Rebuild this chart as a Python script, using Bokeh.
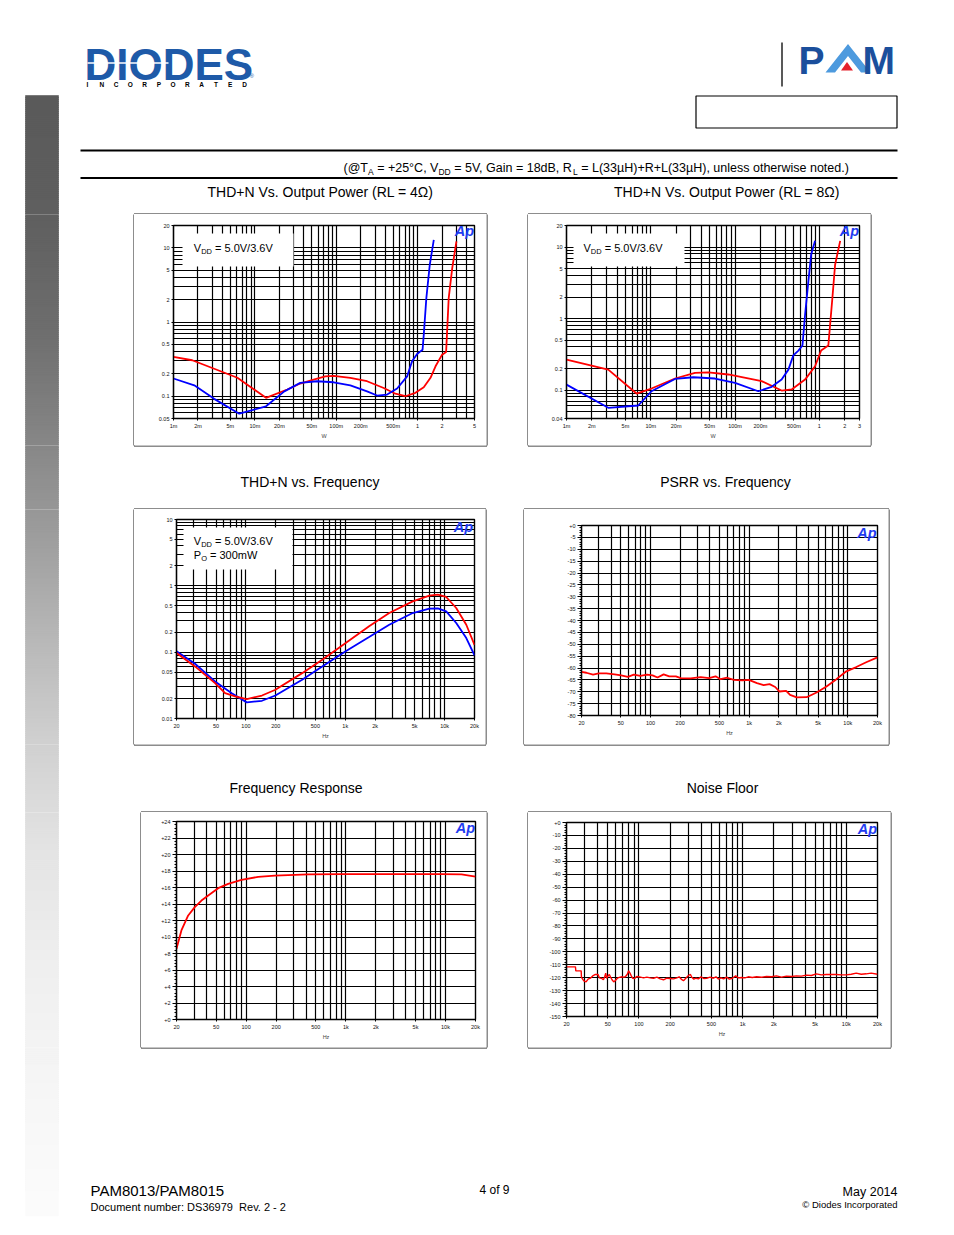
import numpy as np
from bokeh.plotting import figure
from bokeh.models import FixedTicker, Label, BoxAnnotation, Range1d
from bokeh.layouts import row, column
from bokeh.embed import file_html
from bokeh.resources import INLINE
from bokeh.core.properties import value

FONT = "Liberation Sans"
RED = "#ff0000"
BLUE = "#0000ff"
AP_BLUE = "#1f3cf0"

# ---------------- data ----------------
# THD+N vs output power, RL = 4 ohm (red: VDD 5.0 V, blue: VDD 3.6 V)
p4_red_w = [0.001, 0.0017, 0.0061, 0.0137, 0.025, 0.0361, 0.0527, 0.0734, 0.0929, 0.149, 0.239, 0.383,
            0.533, 0.708, 0.94, 1.19, 1.44, 1.66, 2.0, 2.24, 2.41, 2.66, 3.0]
p4_red_pct = [0.338, 0.305, 0.177, 0.095, 0.123, 0.148, 0.167, 0.185, 0.188, 0.177, 0.159, 0.129,
              0.108, 0.0998, 0.111, 0.132, 0.177, 0.253, 0.363, 0.395, 2.1, 5.3, 12.2]
p4_blue_w = [0.001, 0.0018, 0.00316, 0.00643, 0.0137, 0.023, 0.0361, 0.058, 0.0929, 0.149, 0.239, 0.318,
             0.422, 0.56, 0.743, 0.855, 0.986, 1.11, 1.15, 1.19, 1.28, 1.41, 1.58]
p4_blue_pct = [0.173, 0.140, 0.092, 0.058, 0.073, 0.116, 0.151, 0.159, 0.154, 0.140, 0.116, 0.102,
               0.105, 0.127, 0.185, 0.295, 0.371, 0.411, 0.42, 0.676, 2.1, 5.9, 12.8]

# THD+N vs output power, RL = 8 ohm
p8_red_w = [0.001, 0.00313, 0.00678, 0.0102, 0.0194, 0.0335, 0.0482, 0.0832, 0.207, 0.357, 0.47, 0.678,
            0.891, 1.05, 1.28, 1.43, 1.54, 1.77]
p8_red_pct = [0.267, 0.193, 0.0894, 0.105, 0.145, 0.174, 0.177, 0.165, 0.133, 0.0984, 0.102, 0.140,
              0.215, 0.356, 0.419, 1.94, 5.66, 12.2]
p8_blue_w = [0.001, 0.00313, 0.0071, 0.0102, 0.0194, 0.032, 0.0578, 0.1, 0.189, 0.272, 0.357, 0.43,
             0.492, 0.565, 0.631, 0.678, 0.742, 0.8, 0.891]
p8_blue_pct = [0.119, 0.0564, 0.0608, 0.0962, 0.143, 0.151, 0.145, 0.126, 0.0962, 0.111, 0.140, 0.193,
               0.306, 0.356, 0.419, 1.13, 3.31, 7.8, 12.2]

# THD+N vs frequency (PO = 300 mW)
thdf_red_hz = [20, 30.7, 48.9, 61.7, 77.8, 102, 145, 198, 368, 586, 1010, 1738, 2772, 4775, 7031,
               8549, 10380, 13090, 16530, 20000]
thdf_red_pct = [0.0968, 0.061, 0.0341, 0.0241, 0.0215, 0.0196, 0.0222, 0.0271, 0.0483, 0.0769, 0.137,
                0.245, 0.389, 0.583, 0.711, 0.736, 0.679, 0.463, 0.259, 0.129]
thdf_blue_hz = [20, 30.7, 48.9, 72, 102, 145, 198, 368, 586, 1010, 1738, 2772, 4775, 7031, 8549,
                10380, 13090, 16530, 20000]
thdf_blue_pct = [0.103, 0.0668, 0.0362, 0.0241, 0.0175, 0.0185, 0.0222, 0.0384, 0.061, 0.103, 0.169,
                 0.259, 0.389, 0.453, 0.458, 0.413, 0.275, 0.163, 0.0894]

# PSRR vs frequency
psrr_hz = [20, 22.4, 26.2, 29.9, 35.7, 43.3, 50.5, 59.0, 67.8, 79.1,
           92.3, 105, 118, 136, 155, 181, 203, 256, 323, 392,
           457, 513, 599, 700, 849, 991, 1202, 1403, 1612, 1838,
           2033, 2372, 2601, 3036, 3826, 4826, 6083, 7670, 9670, 12190,
           15370, 20000]
psrr_db = [-61.6, -62.0, -62.8, -62.3, -62.3, -62.7, -63.1, -63.7, -62.8, -63.3,
           -62.8, -63.1, -64.0, -62.7, -63.5, -63.5, -64.3, -64.4, -63.8, -64.3,
           -63.5, -64.7, -64.1, -65.0, -65.2, -65.0, -66.4, -67.2, -66.8, -68.0,
           -69.9, -69.6, -71.3, -72.4, -72.3, -70.3, -67.8, -64.7, -61.4, -59.6,
           -57.6, -55.5]

# Frequency response
fr_hz = [20, 22.4, 26.2, 30.5, 35.6, 41.6, 52.4, 66, 89.7, 132, 194, 419, 906, 1956, 4223, 9120,
         14480, 20000]
fr_db = [8.57, 10.79, 12.61, 13.62, 14.42, 15.03, 15.92, 16.44, 16.93, 17.29, 17.45, 17.58, 17.62,
         17.62, 17.62, 17.62, 17.58, 17.33]

# Noise floor
noise_hz = [20, 24.4, 24.6, 27.7, 27.9, 29.4, 30.9, 32.3, 34.0, 35.8,
            38.0, 40.3, 41.5, 43.4, 45.4, 46.7, 47.8, 48.8, 50.3, 51.8,
            53.4, 55.0, 57.1, 59.2, 61.9, 64.7, 67.6, 70.7, 73.9, 77.2,
            79.5, 81.9, 84.3, 86.8, 90.8, 94.9, 99.0, 103.5, 110.6, 119.2,
            128.4, 138.3, 148.9, 160.3, 172.6, 185.9, 200, 215.4, 232, 244.3,
            255.4, 268.9, 283.1, 300.3, 313.9, 323.3, 338, 355.7, 374.4, 397.4,
            421.6, 450.6, 484.9, 522, 554, 583, 619, 656, 701, 744,
            795, 856, 908, 978, 1053, 1133, 1238, 1363, 1522, 1700,
            1899, 2122, 2370, 2647, 2957, 3303, 3690, 4122, 4605, 5143,
            5744, 6417, 7168, 8006, 8945, 9990, 11160, 12470, 13930, 15560,
            17380, 20000]
noise_db = [-111.6, -111.6, -114.7, -114.7, -119.8, -122.4, -123.2, -121.1, -120.4, -118.6,
            -117.5, -117.5, -120.1, -120.4, -121.6, -119.3, -116.5, -120.6, -118.6, -117.5,
            -119.8, -121.6, -123.2, -122.2, -120.4, -119.8, -119.3, -119.6, -119.3, -117.3,
            -114.7, -116.5, -118.6, -120.4, -120.6, -119.1, -119.3, -119.6, -120.1, -119.6,
            -120.1, -120.4, -119.6, -120.9, -121.6, -120.4, -120.6, -120.9, -120.1, -119.3,
            -121.1, -122.4, -120.4, -118.3, -117.5, -119.6, -121.1, -120.4, -120.9, -119.3,
            -120.6, -120.4, -119.6, -120.4, -119.3, -121.1, -120.1, -120.9, -119.6, -121.1,
            -120.4, -118.6, -120.1, -119.8, -120.1, -119.3, -119.8, -119.3, -119.6, -119.1,
            -119.3, -118.6, -119.6, -118.8, -119.1, -118.6, -118.8, -118.0, -118.3, -117.0,
            -117.8, -117.5, -117.5, -117.5, -117.8, -117.8, -117.3, -116.5, -117.3, -117.0,
            -116.5, -117.3]

# tick labels
pw4_xticks = [0.001, 0.002, 0.005, 0.01, 0.02, 0.05, 0.1, 0.2, 0.5, 1, 2, 5]
pw4_xlabels = ["1m", "2m", "5m", "10m", "20m", "50m", "100m", "200m", "500m", "1", "2", "5"]
pw4_yticks = [0.05, 0.1, 0.2, 0.5, 1, 2, 5, 10, 20]
pw4_ylabels = ["0.05", "0.1", "0.2", "0.5", "1", "2", "5", "10", "20"]
pw8_xticks = [0.001, 0.002, 0.005, 0.01, 0.02, 0.05, 0.1, 0.2, 0.5, 1, 2, 3]
pw8_xlabels = ["1m", "2m", "5m", "10m", "20m", "50m", "100m", "200m", "500m", "1", "2", "3"]
pw8_yticks = [0.04, 0.1, 0.2, 0.5, 1, 2, 5, 10, 20]
pw8_ylabels = ["0.04", "0.1", "0.2", "0.5", "1", "2", "5", "10", "20"]
hz_ticks = [20, 50, 100, 200, 500, 1000, 2000, 5000, 10000, 20000]
hz_labels = ["20", "50", "100", "200", "500", "1k", "2k", "5k", "10k", "20k"]
thdf_yticks = [0.01, 0.02, 0.05, 0.1, 0.2, 0.5, 1, 2, 5, 10]
thdf_ylabels = ["0.01", "0.02", "0.05", "0.1", "0.2", "0.5", "1", "2", "5", "10"]
psrr_yticks = [-80, -75, -70, -65, -60, -55, -50, -45, -40, -35, -30, -25, -20, -15, -10, -5, 0]
psrr_ylabels = ["-80", "-75", "-70", "-65", "-60", "-55", "-50", "-45", "-40", "-35", "-30", "-25",
                "-20", "-15", "-10", "-5", "+0"]
fr_yticks = [0, 2, 4, 6, 8, 10, 12, 14, 16, 18, 20, 22, 24]
fr_ylabels = ["+0", "+2", "+4", "+6", "+8", "+10", "+12", "+14", "+16", "+18", "+20", "+22", "+24"]
nf_yticks = [-150, -140, -130, -120, -110, -100, -90, -80, -70, -60, -50, -40, -30, -20, -10, 0]
nf_ylabels = ["-150", "-140", "-130", "-120", "-110", "-100", "-90", "-80", "-70", "-60", "-50",
              "-40", "-30", "-20", "-10", "+0"]

# ---------------- helpers ----------------
AW = {' ': 278, '(': 333, ')': 333, '+': 584, ',': 278, '-': 333, '.': 278, '/': 278, ':': 278,
      '=': 584, '@': 1015, '°': 400, 'µ': 577, 'Ω': 768, '©': 737,
      'A': 667, 'B': 667, 'C': 722, 'D': 722, 'E': 667, 'F': 611, 'G': 778, 'H': 722, 'I': 278,
      'L': 556, 'M': 833, 'N': 722, 'O': 778, 'P': 667, 'R': 722, 'S': 667, 'T': 611, 'V': 667,
      'W': 944, 'a': 556, 'b': 556, 'c': 500, 'd': 556, 'e': 556, 'f': 278, 'g': 556, 'h': 556,
      'i': 222, 'k': 500, 'l': 222, 'm': 833, 'n': 556, 'o': 556, 'p': 556, 'q': 556, 'r': 333,
      's': 500, 't': 278, 'u': 556, 'v': 500, 'w': 722, 'y': 500}


def tw(s, size):
    return sum(AW.get(ch, 556) for ch in s) * size / 1000.0


def log_grid(lo, hi):
    out = []
    for e in range(-4, 6):
        for k in range(1, 10):
            v = round(k * 10.0 ** e, 10)
            if lo * (1 - 1e-9) <= v <= hi * (1 + 1e-9):
                out.append(v)
    return out


GRAY_Y = [95, 220, 330, 430, 530, 630, 740, 850, 960, 1100, 1215]
GRAY_V = [90, 96, 110, 132, 156, 182, 208, 228, 239, 247, 252]


class Chart:
    def __init__(self, x0, y0, w, h, bl, br, bt, bb, xr, yr, ylog):
        self.x0, self.y0, self.w, self.h = x0, y0, w, h
        self.fl, self.fr = x0 + bl, x0 + w - br
        self.ft, self.fb = y0 + bt, y0 + h - bb
        self.xr, self.yr, self.ylog = xr, yr, ylog
        p = figure(width=w, height=h, x_axis_type="log", y_axis_type="log" if ylog else "linear",
                   x_range=Range1d(*xr), y_range=Range1d(*yr),
                   min_border_left=bl, min_border_right=br, min_border_top=bt, min_border_bottom=bb,
                   toolbar_location=None, output_backend="svg", title=None)
        p.frame_align = False
        p.background_fill_color = "white"
        p.border_fill_color = "white"
        p.outline_line_color = "black"
        p.outline_line_width = 1.4
        self.p = p

    def d(self, px, py):
        fx = (px - self.fl) / (self.fr - self.fl)
        fy = (self.fb - py) / (self.fb - self.ft)
        lx0, lx1 = np.log10(self.xr[0]), np.log10(self.xr[1])
        x = 10 ** (lx0 + fx * (lx1 - lx0))
        if self.ylog:
            ly0, ly1 = np.log10(self.yr[0]), np.log10(self.yr[1])
            y = 10 ** (ly0 + fy * (ly1 - ly0))
        else:
            y = self.yr[0] + fy * (self.yr[1] - self.yr[0])
        return float(x), float(y)

    def label(self, px, py, txt, size, align="center", baseline="middle", color="black", style="normal"):
        x, y = self.d(px, py)
        self.p.add_layout(Label(x=x, y=y, text=txt, text_font=FONT, text_font_size=f"{size}px",
                                text_align=align, text_baseline=baseline, text_color=color,
                                text_font_style=style))

    def runs(self, px, pyc, parts, size):
        x = px
        for txt, sub in parts:
            s = size * 0.68 if sub else size
            y = pyc + (size * 0.32 if sub else 0)
            lead = len(txt) - len(txt.lstrip(' '))
            x += lead * AW[' '] * s / 1000.0
            t = txt.lstrip(' ')
            self.label(x, y, t, round(s, 2), align="left", baseline="middle")
            x += tw(t, s)

    def whitebox(self, l, t, r, b):
        x1, y1 = self.d(l, b)
        x2, y2 = self.d(r, t)
        self.p.add_layout(BoxAnnotation(left=x1, right=x2, bottom=y1, top=y2, fill_color="white",
                                        fill_alpha=1.0, line_color=None, level="annotation"))

    def ap(self, pr, pt):
        self.label(pr, pt, "Ap", 14.5, align="right", baseline="top", color=AP_BLUE, style="bold italic")

    def style(self, xticks, xlabels, xgrid, yticks, ylabels, ygrid, yminor, xlabel, ytick_out, yminor_out):
        p = self.p
        p.xaxis.ticker = FixedTicker(ticks=xticks, minor_ticks=[])
        p.xaxis.major_label_overrides = {t: lab for t, lab in zip(xticks, xlabels)}
        p.yaxis.ticker = FixedTicker(ticks=yticks, minor_ticks=yminor)
        p.yaxis.major_label_overrides = {t: lab for t, lab in zip(yticks, ylabels)}
        p.xgrid.ticker = FixedTicker(ticks=xgrid, minor_ticks=[])
        p.ygrid.ticker = FixedTicker(ticks=ygrid, minor_ticks=[])
        p.grid.grid_line_color = "black"
        p.grid.grid_line_width = 1.2
        p.grid.minor_grid_line_color = None
        p.axis.axis_line_color = "black"
        p.axis.axis_line_width = 1.2
        p.axis.major_tick_line_color = "black"
        p.axis.major_tick_in = 0
        p.axis.minor_tick_in = 0
        p.xaxis.major_tick_out = 2
        p.xaxis.minor_tick_line_color = None
        p.yaxis.major_tick_out = ytick_out
        p.yaxis.minor_tick_out = yminor_out
        p.yaxis.minor_tick_line_color = "black"
        p.axis.major_label_text_font = FONT
        p.axis.major_label_text_font_size = "5.5px"
        p.axis.major_label_text_color = "#111111"
        p.axis.major_label_standoff = 2
        p.xaxis.axis_label = xlabel
        p.xaxis.axis_label_text_font = FONT
        p.xaxis.axis_label_text_font_size = "5.5px"
        p.xaxis.axis_label_text_font_style = "normal"
        p.xaxis.axis_label_standoff = 1


# ---------------- charts ----------------
c1 = Chart(134, 214, 352, 231, 39, 12, 11, 27, (0.001, 5), (0.05, 20), True)
c2 = Chart(528, 214, 342, 231, 38, 11, 11, 27, (0.001, 3), (0.04, 20), True)
c3 = Chart(134, 509, 351, 235, 42, 11, 10, 26, (20, 20000), (0.01, 10), True)
c4 = Chart(524, 509, 364, 235, 57, 11, 16, 29, (20, 20000), (-80, 0), False)
c5 = Chart(141, 812, 345, 235, 35, 11, 9, 28, (20, 20000), (0, 24), False)
c6 = Chart(528, 812, 362, 235, 38, 13, 10, 31, (20, 20000), (-150, 0), False)
CHARTS = [c1, c2, c3, c4, c5, c6]

hz_grid = log_grid(20, 20000)

c1.style(pw4_xticks, pw4_xlabels, log_grid(0.001, 5), pw4_yticks, pw4_ylabels, log_grid(0.05, 20), [], "W", 2, 0)
c1.p.line(p4_red_w, p4_red_pct, line_color=RED, line_width=1.8)
c1.p.line(p4_blue_w, p4_blue_pct, line_color=BLUE, line_width=1.8)
c1.whitebox(182, 233, 293, 266)
c1.runs(193.3, 247, [("V", 0), ("DD", 1), (" = 5.0V/3.6V", 0)], 11)
c1.label(139, 320, "%", 5.5)
c1.ap(473.5, 222.5)

c2.style(pw8_xticks, pw8_xlabels, log_grid(0.001, 3), pw8_yticks, pw8_ylabels, log_grid(0.04, 20), [], "W", 2, 0)
c2.p.line(p8_red_w, p8_red_pct, line_color=RED, line_width=1.8)
c2.p.line(p8_blue_w, p8_blue_pct, line_color=BLUE, line_width=1.8)
c2.whitebox(573, 233, 684, 266)
c2.runs(583, 247, [("V", 0), ("DD", 1), (" = 5.0V/3.6V", 0)], 11)
c2.label(533, 320, "%", 5.5)
c2.ap(858.5, 222.5)

c3.style(hz_ticks, hz_labels, hz_grid, thdf_yticks, thdf_ylabels, log_grid(0.01, 10), [], "Hz", 2, 0)
c3.p.line(thdf_blue_hz, thdf_blue_pct, line_color=BLUE, line_width=1.8)
c3.p.line(thdf_red_hz, thdf_red_pct, line_color=RED, line_width=1.8)
c3.whitebox(183, 527, 292, 569)
c3.runs(193.3, 540, [("V", 0), ("DD", 1), (" = 5.0V/3.6V", 0)], 11)
c3.runs(193.3, 554.5, [("P", 0), ("O", 1), (" = 300mW", 0)], 11)
c3.label(139, 616, "%", 5.5)
c3.ap(472.5, 518)

c4.style(hz_ticks, hz_labels, hz_grid, psrr_yticks, psrr_ylabels, psrr_yticks,
         list(range(-80, 1)), "Hz", 4, 2)
c4.p.line(psrr_hz, psrr_db, line_color=RED, line_width=1.8)
c4.label(542, 615, "d", 5.5)
c4.label(542, 622, "B", 5.5)
c4.ap(876, 524)

c5.style(hz_ticks, hz_labels, hz_grid, fr_yticks, fr_ylabels, fr_yticks,
         [round(0.4 * i, 1) for i in range(61)], "Hz", 4, 2)
c5.p.line(fr_hz, fr_db, line_color=RED, line_width=1.8)
for ch, yy in zip("dBgA", [908.5, 914.5, 920.5, 932.5]):
    c5.label(145, yy, ch, 5.5)
c5.ap(474.5, 819)

c6.style(hz_ticks, hz_labels, hz_grid, nf_yticks, nf_ylabels, nf_yticks,
         list(range(-150, 1, 2)), "Hz", 4, 2)
c6.p.line(noise_hz, noise_db, line_color=RED, line_width=1.4)
for ch, yy in zip("dBrA", [904, 911, 918.5, 933.5]):
    c6.label(533, yy, ch, 5.5)
c6.ap(876.5, 820.5)


# ---------------- page pieces ----------------
def ptext(p, x, y, txt, size, align="left", baseline="middle", color="black", style="normal"):
    p.text(x=[x], y=[y], text=[txt], text_font=value(FONT), text_font_size=value(f"{size}px"),
           text_align=value(align), text_baseline=value(baseline), text_color=color,
           text_font_style=value(style))


def prun(p, x, yc, parts, size):
    for txt, sub in parts:
        s = size * 0.68 if sub else size
        y = yc + (size * 0.32 if sub else 0)
        lead = len(txt) - len(txt.lstrip(' '))
        x += lead * AW[' '] * s / 1000.0
        t = txt.lstrip(' ')
        ptext(p, x, y, t, round(s, 2))
        x += tw(t, s)


def page_fig(x0, y0, w, h):
    p = figure(width=w, height=h, x_range=Range1d(x0, x0 + w), y_range=Range1d(y0 + h, y0),
               min_border=0, toolbar_location=None, output_backend="svg", title=None,
               x_axis_location=None, y_axis_location=None)
    p.frame_align = False
    p.grid.visible = False
    p.outline_line_color = None
    p.background_fill_color = "white"
    p.border_fill_color = "white"
    ys = np.arange(max(95, y0 - 4), min(1215, y0 + h + 4), 2.0)
    if len(ys):
        vals = np.interp(ys + 1, GRAY_Y, GRAY_V)
        cols = ["#%02x%02x%02x" % (int(v), int(v), int(v)) for v in vals]
        p.quad(left=25, right=58, top=list(ys), bottom=list(ys + 2.6), fill_color=cols,
               line_color=cols, line_width=0.6)
    for c in CHARTS:
        p.quad(left=[c.x0 - 0.5], right=[c.x0 + c.w + 0.5], top=[c.y0 - 0.5], bottom=[c.y0 + c.h + 0.5],
               fill_color=None, line_color="#1a1a1a", line_width=1)
    return p


W = 954
header = page_fig(0, 0, W, 214)
# DIODES logo
ptext(header, 84, 64, "DIODES", 44, color="#1e5aa8", style="bold")
header.segment(x0=[87], y0=[62.5], x1=[168], y1=[62.5], line_color="white", line_width=1.6)
header.text(x=list(np.linspace(87, 244, 12)), y=[84] * 12, text=list("INCORPORATED"),
            text_font=value(FONT), text_font_size=value("6.5px"), text_align=value("center"),
            text_baseline=value("middle"), text_font_style=value("bold"), text_color="black")
ptext(header, 249, 75, "®", 6, color="#1e5aa8")
# PAM logo
header.segment(x0=[781.5], y0=[42], x1=[781.5], y1=[86], line_color="#222222", line_width=1.5)
ptext(header, 798, 60, "P", 39, color="#1b4f9c", style="bold")
header.patch(x=[825, 847.5, 870, 860.5, 847.5, 834.5], y=[72, 43.5, 72, 72, 55.5, 72],
             fill_color="#4d9ade", line_color=None)
header.patch(x=[840.5, 846.5, 852.5], y=[70, 61.5, 70], fill_color="#e3202b", line_color=None)
ptext(header, 862, 60, "M", 39, color="#1b4f9c", style="bold")
header.quad(left=[695.5], right=[896.5], top=[95.5], bottom=[127.5], fill_color=None,
            line_color="black", line_width=1.2)
header.segment(x0=[80, 80], y0=[150, 177.5], x1=[897, 897], y1=[150, 177.5],
               line_color="black", line_width=2)
prun(header, 343, 167, [("(@T", 0), ("A", 1), (" = +25°C, V", 0), ("DD", 1),
                        (" = 5V, Gain = 18dB, R", 0), ("L", 1),
                        (" = L(33µH)+R+L(33µH), unless otherwise noted.)", 0)], 12.5)
ptext(header, 320, 191, "THD+N Vs. Output Power (RL = 4Ω)", 14, align="center")
ptext(header, 726.5, 191, "THD+N Vs. Output Power (RL = 8Ω)", 14, align="center")

title2 = page_fig(0, 445, W, 64)
ptext(title2, 309.5, 481, "THD+N vs. Frequency", 14, align="center")
ptext(title2, 725, 481, "PSRR vs. Frequency", 14, align="center")

title3 = page_fig(0, 744, W, 68)
ptext(title3, 295.5, 787, "Frequency Response", 14, align="center")
ptext(title3, 722, 787, "Noise Floor", 14, align="center")

footer = page_fig(0, 1047, W, 183)
ptext(footer, 90, 1190, "PAM8013/PAM8015", 15)
ptext(footer, 90, 1206, "Document number: DS36979\u00a0 Rev. 2 - 2", 11)
ptext(footer, 494, 1189, "4 of 9", 12, align="center")
ptext(footer, 897, 1191, "May 2014", 12.5, align="right")
ptext(footer, 897, 1204, "© Diodes Incorporated", 9.5, align="right")

row1 = row(page_fig(0, 214, 134, 231), c1.p, page_fig(486, 214, 42, 231), c2.p, page_fig(870, 214, W - 870, 231))
row2 = row(page_fig(0, 509, 134, 235), c3.p, page_fig(485, 509, 39, 235), c4.p, page_fig(888, 509, W - 888, 235))
row3 = row(page_fig(0, 812, 141, 235), c5.p, page_fig(486, 812, 42, 235), c6.p, page_fig(890, 812, W - 890, 235))

layout = column(header, row1, title2, row2, title3, row3, footer)

with open("out.html", "w") as f:
    f.write(file_html(layout, INLINE))
